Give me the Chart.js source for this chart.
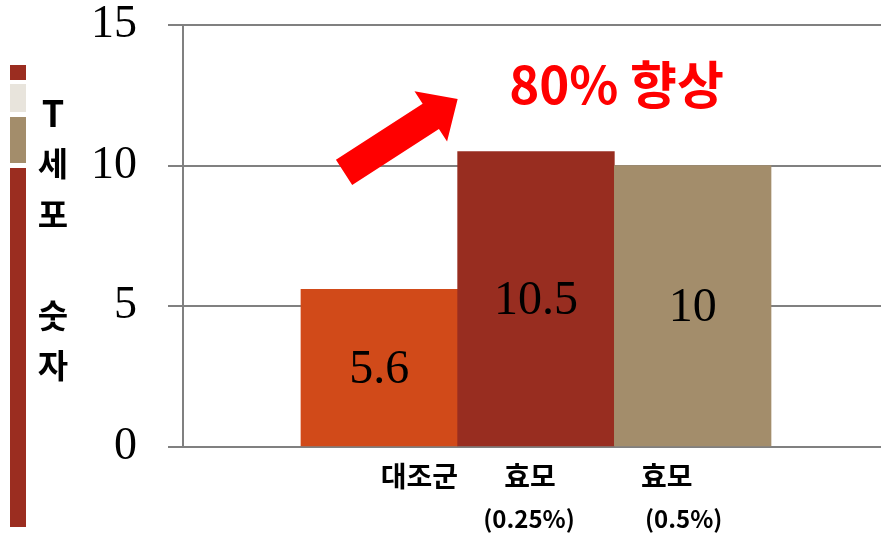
<!DOCTYPE html>
<html>
<head>
<meta charset="utf-8">
<script src="https://cdn.jsdelivr.net/npm/chart.js@4"></script>
<style>
  html, body { margin: 0; padding: 0; background: #fff; }
  #wrap { width: 881px; height: 533px; }
</style>
</head>
<body>
<div id="wrap"><canvas id="chart" width="881" height="533"></canvas></div>
<script>
// data
const categories = ['대조군', '효모 (0.25%)', '효모 (0.5%)'];
const categoryLines = [['대조군'], ['효모', '(0.25%)'], ['효모', '(0.5%)']];
const tCellCounts = [5.6, 10.5, 10];
const barPositions = [1, 2, 3];
const yTicks = [0, 5, 10, 15];
const barColors = ['#D14A19', '#982D20', '#A38D6B'];
const axisTitleChars = ['T', '세', '포', '', '숫', '자'];
const noteText = '80% 향상';

// label offsets from bar centre (px), one per text line
const labelOffsets = [[40], [-6, -7], [-26, -9]];

const gridGray = '#808080';
const serif = "'Liberation Serif', 'DejaVu Serif', serif";
const sans = "'Noto Sans CJK KR', 'Noto Sans', sans-serif";

const decorPlugin = {
  id: 'decor',
  afterDatasetsDraw(chart) {
    const ctx = chart.ctx;
    const meta = chart.getDatasetMeta(0);
    ctx.save();
    ctx.fillStyle = '#000';
    ctx.font = '48px ' + serif;
    ctx.textAlign = 'center';
    ctx.textBaseline = 'middle';
    meta.data.forEach((bar, i) => {
      ctx.fillText(String(tCellCounts[i]), bar.x, (bar.y + bar.base) / 2 + 3);
    });
    ctx.restore();
  },
  afterDraw(chart) {
    const ctx = chart.ctx;
    const xs = chart.scales.x;
    const ys = chart.scales.y;
    const meta = chart.getDatasetMeta(0);

    // category labels under the bars
    ctx.save();
    ctx.fillStyle = '#000';
    ctx.textAlign = 'center';
    ctx.textBaseline = 'middle';
    meta.data.forEach((bar, i) => {
      categoryLines[i].forEach((line, j) => {
        ctx.font = j === 0 ? 'bold 28px ' + sans : 'bold 24px ' + sans;
        ctx.fillText(line, bar.x + labelOffsets[i][j], j === 0 ? 476 : 519);
      });
    });
    ctx.restore();

    // left decoration strip
    ctx.save();
    ctx.fillStyle = '#9B2D20';
    ctx.fillRect(10, 65, 16, 15);
    ctx.fillStyle = '#E8E4DC';
    ctx.fillRect(10, 84, 16, 28);
    ctx.fillStyle = '#A38D6B';
    ctx.fillRect(10, 117, 16, 46);
    ctx.fillStyle = '#9B2D20';
    ctx.fillRect(10, 168, 16, 359);

    // stacked axis title
    ctx.fillStyle = '#000';
    ctx.textAlign = 'center';
    ctx.textBaseline = 'middle';
    axisTitleChars.forEach((ch, i) => {
      ctx.font = (ch === 'T' ? 'bold 36px ' : 'bold 33px ') + sans;
      ctx.fillText(ch, 53, 113 + i * 50.5);
    });
    ctx.restore();

    // red arrow, anchored in data units
    const x0 = xs.getPixelForValue(0.775), y0 = ys.getPixelForValue(9.76);
    const x1 = xs.getPixelForValue(1.5), y1 = ys.getPixelForValue(12.37);
    const len = Math.hypot(x1 - x0, y1 - y0);
    const ux = (x1 - x0) / len, uy = (y1 - y0) / len;
    const px = -uy, py = ux;
    const shaft = 15, head = 30, headLen = 32;
    const bx = x1 - ux * headLen, by = y1 - uy * headLen;
    ctx.save();
    ctx.fillStyle = '#FF0000';
    ctx.beginPath();
    ctx.moveTo(x0 + px * shaft, y0 + py * shaft);
    ctx.lineTo(bx + px * shaft, by + py * shaft);
    ctx.lineTo(bx + px * head, by + py * head);
    ctx.lineTo(x1, y1);
    ctx.lineTo(bx - px * head, by - py * head);
    ctx.lineTo(bx - px * shaft, by - py * shaft);
    ctx.lineTo(x0 - px * shaft, y0 - py * shaft);
    ctx.closePath();
    ctx.fill();

    // note text
    ctx.font = 'bold 51px ' + sans;
    ctx.textAlign = 'center';
    ctx.textBaseline = 'middle';
    ctx.fillText(noteText, xs.getPixelForValue(2.514), ys.getPixelForValue(12.87));
    ctx.restore();
  }
};

const ctx = document.getElementById('chart').getContext('2d');
const chart = new Chart(ctx, {
  type: 'bar',
  data: {
    labels: categories,
    datasets: [{
      label: 'T 세포 숫자',
      data: barPositions.map((x, i) => ({ x: x, y: tCellCounts[i] })),
      backgroundColor: barColors,
      borderWidth: 0,
      barPercentage: 1,
      categoryPercentage: 1
    }]
  },
  options: {
    responsive: false,
    animation: false,
    layout: { padding: { top: 25, right: 0, left: 0, bottom: 0 } },
    plugins: {
      legend: { display: false },
      tooltip: { enabled: false }
    },
    scales: {
      x: {
        type: 'linear',
        offset: false,
        min: -0.253,
        max: 4.202,
        grid: { display: false },
        border: { display: false },
        ticks: { display: false, stepSize: 1, includeBounds: false },
        afterFit: s => {
          s.height = 86;
          s.paddingLeft = 0; s.paddingRight = 0;
        }
      },
      y: {
        min: 0,
        max: 15,
        afterBuildTicks: s => { s.ticks = yTicks.map(v => ({ value: v })); },
        grid: { color: gridGray, lineWidth: 2, tickLength: 15 },
        border: { display: true, color: gridGray, width: 2 },
        ticks: {
          color: '#000',
          padding: 31,
          font: { family: serif, size: 46 }
        },
        afterFit: s => {
          s.width = 183;
          s.paddingTop = 0; s.paddingBottom = 0;
        }
      }
    }
  },
  plugins: [decorPlugin]
});
</script>
</body>
</html>
